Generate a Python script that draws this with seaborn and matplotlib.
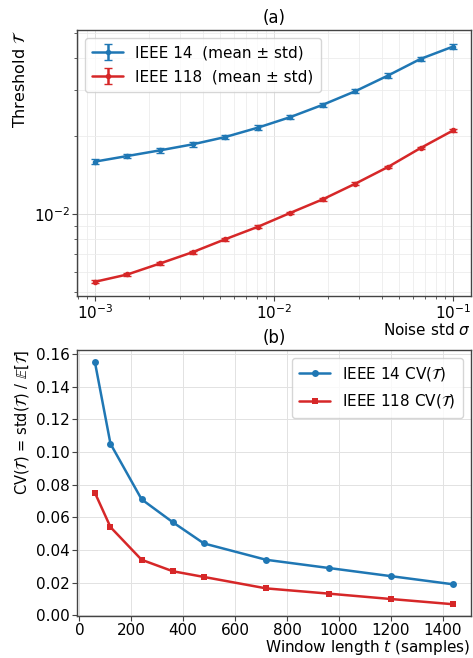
import numpy as np
import pandas as pd
import matplotlib
matplotlib.use("Agg")
import matplotlib.pyplot as plt
import seaborn as sns

# ---- data (a) ----
sigma = [0.001, 0.00152, 0.00231, 0.00351, 0.00534, 0.00811, 0.01233, 0.01874, 0.02848, 0.04329, 0.06579, 0.1]
ieee14_mean = [0.01595, 0.01677, 0.01763, 0.01859, 0.01984, 0.02155, 0.02368, 0.02642, 0.02981, 0.03424, 0.03969, 0.04429]
ieee14_std = [0.00035, 0.00035, 0.00037, 0.00038, 0.00040, 0.00043, 0.00047, 0.00053, 0.00060, 0.00070, 0.00080, 0.00090]
ieee118_mean = [0.00549, 0.00586, 0.00646, 0.00714, 0.00801, 0.00894, 0.01012, 0.01142, 0.01312, 0.01521, 0.01799, 0.02104]
ieee118_std = [0.00007, 0.00007, 0.00008, 0.00009, 0.00010, 0.00011, 0.00012, 0.00014, 0.00016, 0.00018, 0.00021, 0.00025]

# ---- data (b) ----
window = [60, 120, 240, 360, 480, 720, 960, 1200, 1440]
cv14 = [0.155, 0.105, 0.071, 0.057, 0.044, 0.034, 0.029, 0.024, 0.019]
cv118 = [0.075, 0.054, 0.034, 0.027, 0.0235, 0.0165, 0.0133, 0.0100, 0.0068]

sns.set_style("white")
plt.rcParams['font.family'] = ['DejaVu Sans']
plt.rcParams['font.size'] = 11
plt.rcParams['text.color'] = 'black'
plt.rcParams['axes.labelcolor'] = 'black'
plt.rcParams['xtick.color'] = 'black'
plt.rcParams['ytick.color'] = 'black'

BLUE = "#1f77b4"
RED = "#d62728"

W, H = 473, 658
fig = plt.figure(figsize=(W / 100, H / 100), dpi=100)
ax1 = fig.add_axes([77 / W, 1 - 296 / H, 394 / W, 266 / H])
ax2 = fig.add_axes([77 / W, 1 - 616 / H, 394 / W, 266 / H])

for ax in (ax1, ax2):
    for s in ax.spines.values():
        s.set_color("#444444")
        s.set_linewidth(1.0)
    ax.tick_params(direction="out", length=3.5, width=0.8, color="#444444",
                   labelcolor='black', labelsize=11, pad=1.5)

# (a)
ax1.errorbar(sigma, ieee14_mean, yerr=ieee14_std, color=BLUE, marker='o', markersize=3,
             linewidth=1.8, capsize=3, label="IEEE 14  (mean ± std)")
ax1.errorbar(sigma, ieee118_mean, yerr=ieee118_std, color=RED, marker='o', markersize=3,
             linewidth=1.8, capsize=3, label="IEEE 118  (mean ± std)")
ax1.set_xscale('log')
ax1.set_yscale('log')
ax1.set_ylim(0.00484, 0.0513)
ax1.grid(True, which='major', color='#e0e0e0', linewidth=0.7)
ax1.grid(True, which='minor', color='#ececec', linewidth=0.6)
ax1.tick_params(which='both', left=True, bottom=True)
ax1.tick_params(which='minor', length=2, color="#444444")
ax1.set_title("(a)", fontsize=12, pad=5)
ax1.set_xlabel(r"Noise std $\sigma$", loc='right', fontsize=11, labelpad=0)
ax1.set_ylabel(r"Threshold $\mathcal{T}$", loc='top', fontsize=11.5)
ax1.legend(loc='upper left', fontsize=11, frameon=True, fancybox=True, framealpha=0.8,
           borderpad=0.5, labelspacing=0.6)

# (b)
df = pd.DataFrame({"t": window * 2,
                   "cv": cv14 + cv118,
                   "sys": ["IEEE 14 CV($\\mathcal{T}$)"] * len(window) + ["IEEE 118 CV($\\mathcal{T}$)"] * len(window)})
sns.lineplot(data=df, x="t", y="cv", hue="sys", style="sys",
             palette=[BLUE, RED], markers=['o', 's'], dashes=False,
             markersize=5, markeredgewidth=0, linewidth=1.8, ax=ax2)
ax2.set_ylim(-0.0004, 0.1624)
ax2.set_xlim(-9, 1509)
ax2.set_yticks(np.arange(0, 0.161, 0.02))
ax2.set_yticklabels([f"{v:.2f}" for v in np.arange(0, 0.161, 0.02)])
ax2.grid(True, color='#e2e2e2', linewidth=0.7)
ax2.tick_params(left=True, bottom=True)
ax2.set_title("(b)", fontsize=12, pad=5)
ax2.set_xlabel(r"Window length $t$ (samples)", loc='right', fontsize=11, labelpad=0)
ax2.set_ylabel(r"CV($\mathcal{T}$) = std($\mathcal{T}$) / $\mathbb{E}[\mathcal{T}]$", loc='top', fontsize=10.5)
ax2.legend(title=None, loc='upper right', fontsize=11, frameon=True, framealpha=0.8,
           borderpad=0.5, labelspacing=0.6)

fig.savefig("out.png", dpi=100)
